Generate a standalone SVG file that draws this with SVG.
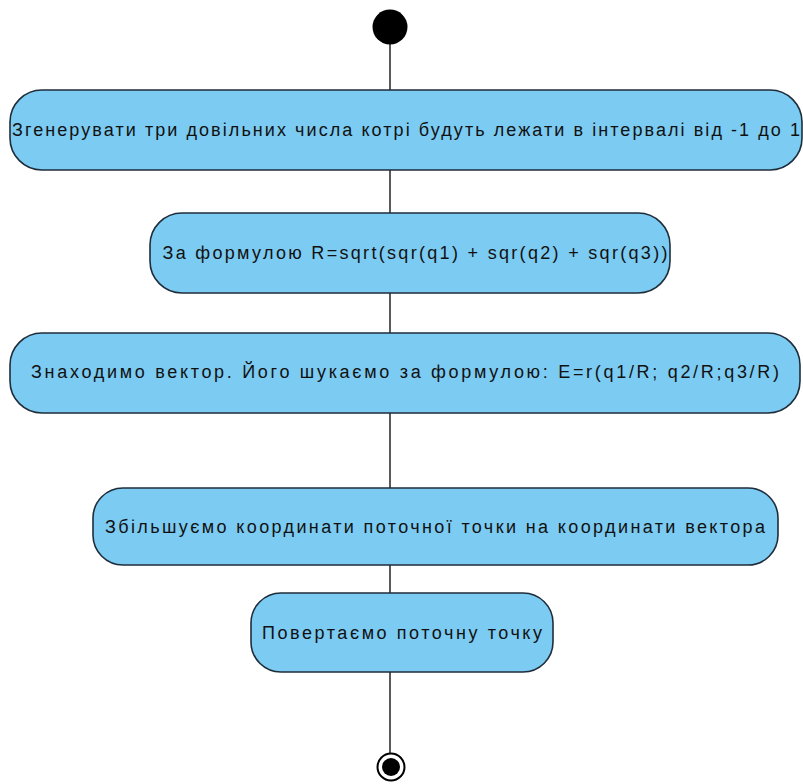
<svg xmlns="http://www.w3.org/2000/svg" width="803" height="784" viewBox="0 0 803 784">
  <style>
    .act rect { fill: #7ccbf2; stroke: #1f2d3a; stroke-width: 1.6; }
    .act text { font-family: "Liberation Sans", Arial, sans-serif; font-size: 18px; fill: #111; text-anchor: middle; dominant-baseline: central; }
    .flow line { stroke: #000; stroke-width: 1.3; }
  </style>
  <rect width="803" height="784" fill="#fff"/>

  <!-- control flows -->
  <g id="connectors" class="flow">
    <line x1="390" y1="44" x2="390" y2="90"/>
    <line x1="390" y1="170" x2="390" y2="213"/>
    <line x1="390" y1="293" x2="390" y2="333"/>
    <line x1="390" y1="413" x2="390" y2="488"/>
    <line x1="390" y1="565" x2="390" y2="593"/>
    <line x1="390" y1="672" x2="390" y2="753"/>
  </g>

  <!-- initial node -->
  <g id="start">
    <circle cx="390" cy="27" r="17.5" fill="#000"/>
  </g>

  <g id="generate" class="act">
    <rect x="10" y="90" width="792" height="80" rx="32" ry="32"/>
    <text x="406" y="130" textLength="788" lengthAdjust="spacing">Згенерувати три довільних числа котрі будуть лежати в інтервалі від -1 до 1</text>
  </g>

  <g id="radius" class="act">
    <rect x="150" y="213" width="520" height="80" rx="32" ry="32"/>
    <text x="415" y="253" textLength="505" lengthAdjust="spacing">За формулою R=sqrt(sqr(q1) + sqr(q2) + sqr(q3))</text>
  </g>

  <g id="vector" class="act">
    <rect x="10" y="333" width="790" height="80" rx="32" ry="32"/>
    <text x="405" y="372" textLength="748" lengthAdjust="spacing">Знаходимо вектор. Його шукаємо за формулою: E=r(q1/R; q2/R;q3/R)</text>
  </g>

  <g id="increase" class="act">
    <rect x="93" y="488" width="685" height="77" rx="30" ry="30"/>
    <text x="435" y="527" textLength="660" lengthAdjust="spacing">Збільшуємо координати поточної точки на координати вектора</text>
  </g>

  <g id="return" class="act">
    <rect x="251" y="593" width="302" height="79" rx="30" ry="30"/>
    <text x="402" y="633" textLength="280" lengthAdjust="spacing">Повертаємо поточну точку</text>
  </g>

  <!-- final node -->
  <g id="end">
    <circle cx="391" cy="767" r="13.5" fill="#fff" stroke="#000" stroke-width="2"/>
    <circle cx="391" cy="767" r="9" fill="#000"/>
  </g>
</svg>
